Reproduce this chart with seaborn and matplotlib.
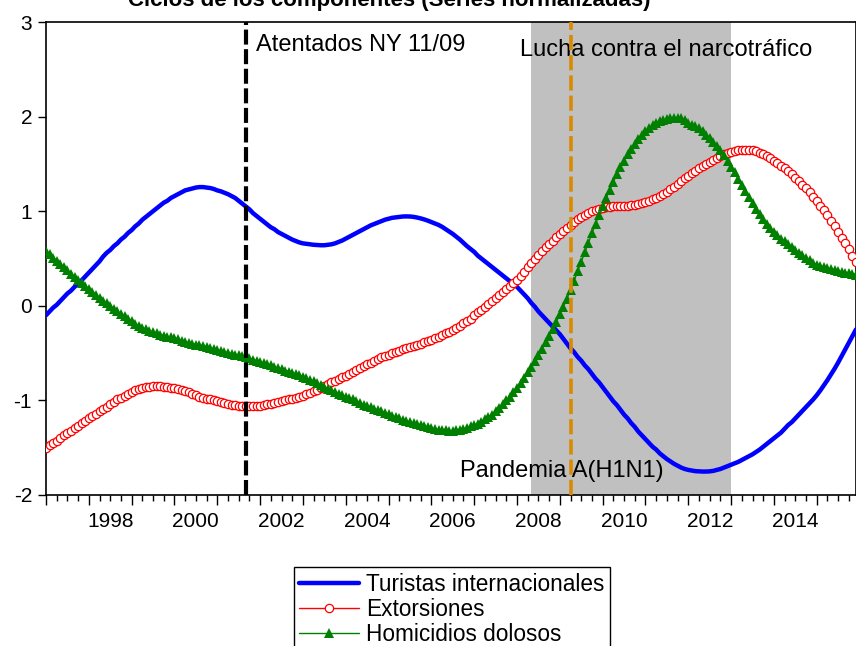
import numpy as np
import pandas as pd
import matplotlib
matplotlib.use('Agg')
import matplotlib.pyplot as plt
import seaborn as sns

# monthly series 1997M01 - 2015M12 (normalised cycle components)
fechas = pd.date_range('1997-01-01', '2015-12-01', freq='MS')

turistas = [
    -0.10, -0.06, -0.02, 0.01, 0.05, 0.09, 0.13, 0.16, 0.20, 0.24, 0.27, 0.31,
    0.35, 0.39, 0.43, 0.47, 0.52, 0.56, 0.59, 0.63, 0.66, 0.70, 0.73, 0.77,
    0.80, 0.84, 0.87, 0.91, 0.94, 0.97, 1.00, 1.03, 1.06, 1.09, 1.11, 1.14,
    1.16, 1.18, 1.20, 1.22, 1.23, 1.24, 1.25, 1.255, 1.255, 1.25, 1.245, 1.235,
    1.22, 1.21, 1.195, 1.18, 1.16, 1.14, 1.11, 1.08, 1.05, 1.02, 0.98, 0.95,
    0.92, 0.89, 0.86, 0.83, 0.81, 0.78, 0.76, 0.74, 0.72, 0.70, 0.685, 0.67,
    0.66, 0.655, 0.65, 0.645, 0.642, 0.64, 0.64, 0.645, 0.65, 0.66, 0.675, 0.69,
    0.71, 0.73, 0.75, 0.77, 0.79, 0.81, 0.83, 0.85, 0.865, 0.88, 0.895, 0.91,
    0.92, 0.93, 0.935, 0.94, 0.944, 0.945, 0.944, 0.94, 0.933, 0.924, 0.913, 0.90,
    0.885, 0.87, 0.855, 0.835, 0.81, 0.785, 0.76, 0.73, 0.70, 0.665, 0.63, 0.60,
    0.57, 0.53, 0.50, 0.47, 0.44, 0.41, 0.38, 0.35, 0.32, 0.29, 0.26, 0.23,
    0.20, 0.16, 0.12, 0.08, 0.03, -0.01, -0.06, -0.10, -0.14, -0.18, -0.22, -0.26,
    -0.30, -0.35, -0.40, -0.45, -0.49, -0.54, -0.58, -0.63, -0.67, -0.72, -0.77, -0.81,
    -0.86, -0.91, -0.96, -1.01, -1.05, -1.10, -1.15, -1.19, -1.24, -1.28, -1.33, -1.37,
    -1.41, -1.45, -1.49, -1.52, -1.56, -1.59, -1.62, -1.645, -1.67, -1.69, -1.71, -1.725,
    -1.735, -1.742, -1.748, -1.75, -1.752, -1.752, -1.75, -1.745, -1.735, -1.725, -1.71, -1.695,
    -1.68, -1.665, -1.65, -1.63, -1.61, -1.59, -1.57, -1.545, -1.52, -1.49, -1.46, -1.43,
    -1.40, -1.37, -1.34, -1.30, -1.26, -1.23, -1.19, -1.15, -1.11, -1.07, -1.03, -0.99,
    -0.945, -0.895, -0.84, -0.785, -0.725, -0.665, -0.60, -0.53, -0.46, -0.39, -0.32, -0.25,
]

extorsiones = [
    -1.50, -1.475, -1.45, -1.425, -1.40, -1.37, -1.345, -1.32, -1.295, -1.27, -1.24, -1.215,
    -1.19, -1.165, -1.14, -1.115, -1.09, -1.065, -1.04, -1.015, -0.99, -0.97, -0.95, -0.93,
    -0.91, -0.895, -0.88, -0.87, -0.86, -0.855, -0.85, -0.85, -0.85, -0.855, -0.86, -0.865,
    -0.87, -0.875, -0.885, -0.90, -0.915, -0.93, -0.945, -0.96, -0.97, -0.98, -0.99, -1.00,
    -1.01, -1.02, -1.03, -1.04, -1.045, -1.05, -1.055, -1.06, -1.062, -1.064, -1.063, -1.06,
    -1.055, -1.05, -1.04, -1.035, -1.028, -1.02, -1.01, -1.00, -0.99, -0.98, -0.975, -0.96,
    -0.95, -0.935, -0.92, -0.90, -0.885, -0.865, -0.845, -0.83, -0.81, -0.79, -0.77, -0.755,
    -0.74, -0.72, -0.70, -0.68, -0.66, -0.64, -0.62, -0.60, -0.585, -0.565, -0.545, -0.53,
    -0.515, -0.50, -0.49, -0.475, -0.46, -0.45, -0.435, -0.425, -0.41, -0.40, -0.385, -0.375,
    -0.36, -0.345, -0.33, -0.31, -0.29, -0.275, -0.255, -0.235, -0.21, -0.185, -0.16, -0.135,
    -0.10, -0.07, -0.04, -0.01, 0.02, 0.05, 0.085, 0.115, 0.145, 0.175, 0.21, 0.24,
    0.275, 0.315, 0.36, 0.405, 0.45, 0.495, 0.54, 0.58, 0.62, 0.655, 0.69, 0.725,
    0.76, 0.79, 0.825, 0.855, 0.885, 0.915, 0.94, 0.965, 0.985, 1.00, 1.015, 1.025,
    1.035, 1.04, 1.045, 1.05, 1.052, 1.055, 1.058, 1.06, 1.065, 1.07, 1.075, 1.085,
    1.095, 1.11, 1.125, 1.14, 1.16, 1.18, 1.205, 1.23, 1.26, 1.29, 1.32, 1.35,
    1.375, 1.40, 1.43, 1.455, 1.48, 1.50, 1.52, 1.54, 1.56, 1.58, 1.60, 1.615,
    1.625, 1.635, 1.645, 1.65, 1.652, 1.65, 1.645, 1.635, 1.62, 1.605, 1.585, 1.56,
    1.535, 1.51, 1.48, 1.455, 1.425, 1.39, 1.355, 1.32, 1.28, 1.24, 1.20, 1.155,
    1.11, 1.06, 1.01, 0.955, 0.90, 0.84, 0.78, 0.72, 0.66, 0.60, 0.53, 0.46,
]

homicidios = [
    0.58, 0.545, 0.51, 0.475, 0.44, 0.41, 0.375, 0.34, 0.305, 0.27, 0.24, 0.21,
    0.18, 0.15, 0.115, 0.085, 0.055, 0.025, 0.0, -0.03, -0.06, -0.085, -0.11, -0.14,
    -0.165, -0.19, -0.21, -0.23, -0.25, -0.265, -0.28, -0.29, -0.305, -0.315, -0.325, -0.335,
    -0.345, -0.355, -0.37, -0.38, -0.39, -0.40, -0.41, -0.415, -0.425, -0.435, -0.445, -0.455,
    -0.465, -0.475, -0.485, -0.495, -0.505, -0.515, -0.525, -0.535, -0.545, -0.555, -0.57, -0.58,
    -0.595, -0.605, -0.62, -0.63, -0.645, -0.66, -0.67, -0.685, -0.695, -0.71, -0.72, -0.735,
    -0.75, -0.765, -0.78, -0.80, -0.82, -0.835, -0.855, -0.875, -0.895, -0.91, -0.93, -0.945,
    -0.96, -0.975, -0.99, -1.005, -1.025, -1.045, -1.06, -1.075, -1.09, -1.105, -1.115, -1.13,
    -1.145, -1.165, -1.18, -1.19, -1.205, -1.215, -1.23, -1.24, -1.25, -1.265, -1.275, -1.285,
    -1.295, -1.30, -1.31, -1.315, -1.318, -1.32, -1.32, -1.315, -1.31, -1.30, -1.29, -1.275,
    -1.26, -1.245, -1.225, -1.20, -1.175, -1.15, -1.115, -1.08, -1.04, -1.00, -0.96, -0.91,
    -0.865, -0.815, -0.76, -0.705, -0.645, -0.585, -0.52, -0.455, -0.385, -0.315, -0.245, -0.17,
    -0.09, -0.01, 0.075, 0.17, 0.265, 0.365, 0.465, 0.565, 0.665, 0.765, 0.865, 0.96,
    1.05, 1.14, 1.225, 1.31, 1.39, 1.465, 1.535, 1.60, 1.66, 1.715, 1.765, 1.81,
    1.85, 1.88, 1.91, 1.93, 1.95, 1.965, 1.978, 1.986, 1.99, 1.988, 1.98, 1.965,
    1.935, 1.915, 1.90, 1.875, 1.845, 1.81, 1.77, 1.73, 1.69, 1.645, 1.59, 1.53,
    1.47, 1.41, 1.345, 1.28, 1.215, 1.15, 1.085, 1.025, 0.97, 0.915, 0.865, 0.82,
    0.78, 0.745, 0.71, 0.68, 0.65, 0.62, 0.59, 0.56, 0.535, 0.505, 0.48, 0.455,
    0.435, 0.42, 0.405, 0.395, 0.385, 0.375, 0.365, 0.358, 0.35, 0.343, 0.337, 0.33,
]

# events (decimal years)
atentados = 2001 + 8 / 12      # sep 2001
pandemia = 2009 + 3 / 12       # abr 2009
lucha_ini, lucha_fin = 2008 + 4 / 12, 2013.0

df = pd.DataFrame({
    't': fechas.year + (fechas.month - 1) / 12,
    'Turistas internacionales': turistas,
    'Extorsiones': extorsiones,
    'Homicidios dolosos': homicidios,
})

sns.set_style('white')
plt.rcParams['font.family'] = ['Liberation Sans', 'DejaVu Sans']
plt.rcParams['axes.unicode_minus'] = False
plt.rcParams['text.color'] = 'black'
plt.rcParams['xtick.color'] = 'black'
plt.rcParams['ytick.color'] = 'black'
plt.rcParams['xtick.labelcolor'] = 'black'
plt.rcParams['ytick.labelcolor'] = 'black'

fig = plt.figure(figsize=(8.56, 6.46), dpi=100)
ax = fig.add_axes([46 / 856, 1 - 495 / 646, 810 / 856, 473 / 646])

ax.axvspan(lucha_ini, lucha_fin, color='#C0C0C0', lw=0, zorder=0)

sns.lineplot(data=df, x='t', y='Turistas internacionales', ax=ax, color='#0000FF',
             lw=3.2, label='Turistas internacionales', zorder=3)
sns.lineplot(data=df, x='t', y='Extorsiones', ax=ax, color='#FF0000', lw=1,
             marker='o', markersize=6, markerfacecolor='white', markeredgecolor='#FF0000',
             markeredgewidth=0.9, label='Extorsiones', zorder=3)
sns.lineplot(data=df, x='t', y='Homicidios dolosos', ax=ax, color='#008000', lw=1,
             marker='^', markersize=7.5, markerfacecolor='#008000', markeredgecolor='#008000',
             markeredgewidth=0, label='Homicidios dolosos', zorder=3)

ax.axvline(atentados, color='black', lw=3, dashes=(3.6, 1.1), zorder=4)
ax.axvline(pandemia, color='#D98A00', lw=2.6, dashes=(4.2, 1.4), zorder=4)

ax.text(2001.9, 2.76, 'Atentados NY 11/09', fontsize=17, va='center', ha='left')
ax.text(2008.07, 2.70, 'Lucha contra el narcotráfico', fontsize=17, va='center', ha='left')
ax.text(2006.67, -1.75, 'Pandemia A(H1N1)', fontsize=17, va='center', ha='left')

ax.set_xlim(1997.0, 2015 + 11 / 12)
ax.set_ylim(-2, 3)
ax.set_yticks(range(-2, 4))
ax.set_xticks(np.arange(1997, 2016))
ax.set_xticks(np.arange(1997, 2016, 0.25), minor=True)
ax.set_xticklabels([])
ax.tick_params(axis='y', direction='out', length=6, width=1, labelsize=15, pad=4, left=True)
ax.tick_params(axis='x', which='major', direction='out', length=7, width=1, bottom=True)
ax.tick_params(axis='x', which='minor', direction='out', length=4.5, width=1, bottom=True)
ax.set_xlabel('')
ax.set_ylabel('')
for s in ax.spines.values():
    s.set_color('black')
    s.set_linewidth(1.2)

sec = ax.secondary_xaxis('bottom')
sec.set_xticks(np.arange(1998, 2015, 2) + 0.5)
sec.set_xticklabels([str(y) for y in range(1998, 2015, 2)])
sec.tick_params(length=0, labelsize=15, pad=12, labelcolor='black')
sec.spines['bottom'].set_visible(False)

ax.get_legend().remove()
h, l = ax.get_legend_handles_labels()
leg = fig.legend(h, l, loc='upper center', bbox_to_anchor=(452 / 856, 1 - 567 / 646),
                 fontsize=16.3, frameon=True, fancybox=False, framealpha=1, edgecolor='black',
                 handlelength=2.65, handletextpad=0.3, borderpad=0.25, labelspacing=0.1,
                 numpoints=1, borderaxespad=0)
leg.get_frame().set_linewidth(1)

fig.text(0.455, 1 - 6 / 646, 'Ciclos de los componentes (Series normalizadas)', fontsize=16,
         fontweight='bold', ha='center', va='baseline', color='black')

fig.savefig('out.png', dpi=100)
